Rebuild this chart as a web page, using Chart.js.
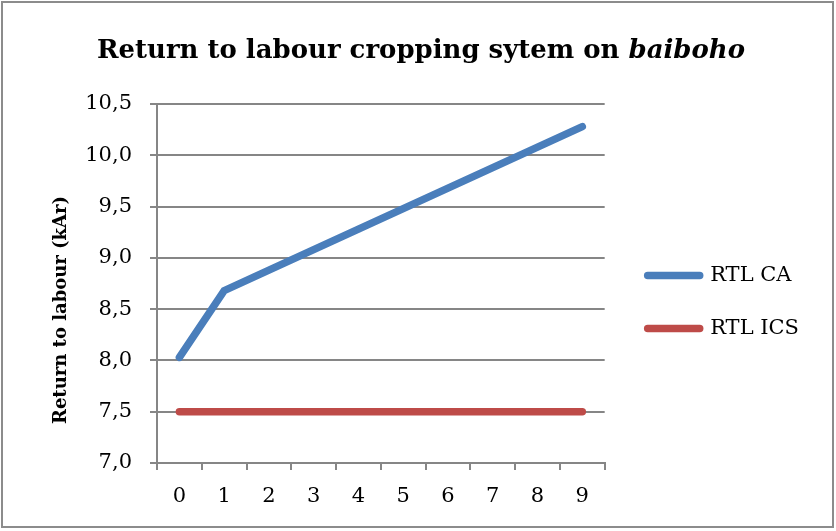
<!DOCTYPE html>
<html>
<head>
<meta charset="utf-8">
<script src="https://cdn.jsdelivr.net/npm/chart.js@4"></script>
<style>
  html, body { margin: 0; padding: 0; background: #fff; }
  #wrap { position: relative; width: 836px; height: 531px; }
  #frame { position: absolute; left: 1px; top: 1px; width: 829px; height: 523px;
           border: 2px solid #8c8c8c; pointer-events: none; }
</style>
</head>
<body>
<div id="wrap">
  <canvas id="rtl-chart" width="836" height="531"></canvas>
  <div id="frame"></div>
</div>
<script>
  let years = ['0', '1', '2', '3', '4', '5', '6', '7', '8', '9'];
  let rtlCA = [8.03, 8.68, 8.88, 9.08, 9.28, 9.48, 9.68, 9.88, 10.08, 10.28];
  let rtlICS = [7.5, 7.5, 7.5, 7.5, 7.5, 7.5, 7.5, 7.5, 7.5, 7.5];
  let seriesNames = ['RTL CA', 'RTL ICS'];
  let colors = ['#4a7ebb', '#be4b48'];
  let titleParts = ['Return to labour cropping sytem on ', 'baiboho'];
  let yTitle = 'Return to labour (kAr)';

  const serif = "'DejaVu Serif', 'Liberation Serif', serif";
  const axisGray = '#868686';

  // chart title (with the italic word) and y axis title, drawn as canvas text
  const titles = {
    id: 'titles',
    afterDraw(chart) {
      const ctx = chart.ctx;
      const size = 26;
      const fonts = ['bold ' + size + 'px ' + serif, 'italic bold ' + size + 'px ' + serif];
      ctx.save();
      let widths = titleParts.map((t, i) => { ctx.font = fonts[i]; return ctx.measureText(t).width; });
      let total = widths[0] + widths[1];
      let sx = Math.min(1, 648 / total);
      ctx.translate(421 - total * sx / 2, 58);
      ctx.scale(sx, 1);
      ctx.fillStyle = '#000';
      ctx.textBaseline = 'alphabetic';
      let x = 0;
      titleParts.forEach((t, i) => {
        ctx.font = fonts[i];
        ctx.fillText(t, x, 0);
        x += widths[i];
      });
      ctx.restore();

      ctx.save();
      ctx.translate(61, 310);
      ctx.rotate(-Math.PI / 2);
      ctx.font = 'bold 18px ' + serif;
      ctx.fillStyle = '#000';
      ctx.textAlign = 'center';
      ctx.textBaseline = 'middle';
      ctx.fillText(yTitle, 0, 0);
      ctx.restore();
    }
  };

  new Chart('rtl-chart', {
    type: 'line',
    data: {
      labels: years,
      datasets: [{
        label: seriesNames[0],
        data: rtlCA,
        borderColor: colors[0],
        backgroundColor: colors[0],
        borderWidth: 7.5,
        borderCapStyle: 'round',
        pointRadius: 0,
        tension: 0
      }, {
        label: seriesNames[1],
        data: rtlICS,
        borderColor: colors[1],
        backgroundColor: colors[1],
        borderWidth: 7.5,
        borderCapStyle: 'round',
        pointRadius: 0,
        tension: 0
      }]
    },
    options: {
      responsive: false,
      animation: false,
      layout: { padding: { top: 104, left: 50, right: 27, bottom: 8 } },
      plugins: {
        title: { display: false },
        tooltip: { enabled: false },
        legend: {
          position: 'right',
          align: 'start',
          maxWidth: 400,
          title: { display: true, text: '', font: { size: 10 }, padding: { top: 117, bottom: 0 } },
          labels: {
            usePointStyle: true,
            pointStyle: 'line',
            pointStyleWidth: 52,
            boxHeight: 5,
            padding: 32,
            color: '#000',
            font: { family: serif, size: 21 },
            generateLabels: chart => Chart.defaults.plugins.legend.labels.generateLabels(chart)
              .map(item => Object.assign(item, { lineCap: 'round' }))
          }
        }
      },
      scales: {
        x: {
          offset: true,
          grid: { offset: true, drawOnChartArea: false, drawTicks: true, tickLength: 7, color: axisGray, lineWidth: 2 },
          border: { display: true, color: axisGray, width: 2 },
          ticks: { color: '#000', padding: 14, font: { family: serif, size: 21 } },
          afterFit: s => { s.height = 531 - 8 - 463; }
        },
        y: {
          min: 7,
          max: 10.5,
          ticks: {
            stepSize: 0.5,
            color: '#000',
            padding: 18,
            font: { family: serif, size: 21 },
            callback: v => v.toFixed(1).replace('.', ',')
          },
          grid: { color: axisGray, lineWidth: 2, tickLength: 7 },
          border: { display: true, color: axisGray, width: 2 },
          afterFit: s => { s.width = 107; }
        },
        // empty spacer between plot and legend
        gap: {
          position: 'right',
          grid: { display: false },
          border: { display: false },
          ticks: { display: false },
          afterFit: s => { s.width = 11; }
        }
      }
    },
    plugins: [titles]
  });
</script>
</body>
</html>
